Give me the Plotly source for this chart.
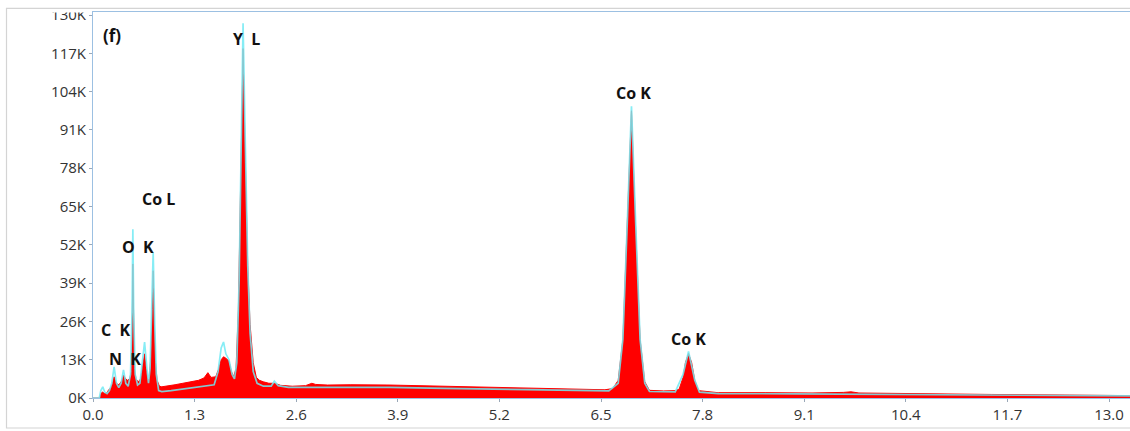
import plotly.graph_objects as go

# Measured EDS spectrum: energy (keV) and counts (thousands)
spec_energy = [
    0.00, 0.09, 0.10, 0.12, 0.15, 0.18, 0.20, 0.23, 0.25, 0.27, 0.29, 0.32,
    0.35, 0.37, 0.39, 0.41, 0.44, 0.47, 0.49, 0.50, 0.51, 0.52, 0.53, 0.55,
    0.58, 0.61, 0.63, 0.66, 0.68, 0.70, 0.72, 0.74, 0.76, 0.77, 0.78, 0.80,
    0.82, 0.85, 0.88, 0.95, 1.05, 1.15, 1.25, 1.35, 1.42, 1.47, 1.51, 1.57,
    1.61, 1.64, 1.67, 1.70, 1.74, 1.77, 1.80, 1.83, 1.86, 1.89, 1.92, 1.95,
    1.98, 2.01, 2.05, 2.09, 2.13, 2.18, 2.25, 2.32, 2.40, 2.55, 2.72, 2.80,
    2.85, 3.00, 3.30, 3.80, 4.40, 5.00, 5.60, 6.20, 6.55, 6.65, 6.72, 6.78,
    6.84, 6.89, 6.94, 7.00, 7.06, 7.12, 7.30, 7.45, 7.50, 7.55, 7.58, 7.62,
    7.66, 7.70, 7.75, 8.00, 8.60, 9.20, 9.60, 9.70, 9.80, 10.50, 11.50,
    12.50, 13.30,
]
spec_counts_k = [
    0.0, 0.0, 1.5, 2.0, 1.5, 1.8, 2.8, 3.5, 5.0, 7.2, 5.5, 4.4,
    5.0, 6.0, 7.8, 6.8, 6.0, 6.5, 9.0, 20.0, 45.5, 22.0, 10.0, 6.5,
    5.5, 6.5, 10.0, 15.0, 10.0, 6.0, 6.5, 14.0, 30.0, 43.2, 30.0, 12.0,
    6.0, 4.0, 3.8, 4.0, 4.5, 5.0, 5.5, 6.0, 6.8, 8.6, 7.0, 7.2,
    10.0, 13.0, 14.0, 13.5, 12.5, 9.0, 7.2, 10.0, 30.0, 80.0, 118.6, 80.0,
    45.0, 25.0, 12.0, 7.0, 6.0, 5.5, 5.0, 5.0, 4.3, 4.0, 4.2, 5.0,
    4.6, 4.4, 4.5, 4.4, 4.0, 3.6, 3.3, 3.0, 2.8, 3.2, 6.0, 20.0,
    60.0, 97.5, 60.0, 20.0, 5.5, 2.6, 2.4, 2.5, 3.0, 7.0, 12.0, 15.1,
    12.0, 6.0, 2.5, 1.8, 1.8, 1.7, 1.9, 2.1, 1.7, 1.4, 1.2,
    1.0, 0.8,
]

# Fitted spectrum overlay: energy (keV) and counts (thousands)
fit_energy = [
    0.00, 0.08, 0.10, 0.125, 0.15, 0.18, 0.21, 0.24, 0.27, 0.30, 0.33, 0.36,
    0.39, 0.42, 0.45, 0.48, 0.50, 0.51, 0.52, 0.54, 0.57, 0.60, 0.63, 0.66,
    0.69, 0.71, 0.73, 0.75, 0.77, 0.79, 0.81, 0.84, 0.88, 1.00, 1.20, 1.40,
    1.55, 1.60, 1.64, 1.67, 1.70, 1.74, 1.78, 1.81, 1.84, 1.87, 1.90, 1.92,
    1.95, 1.98, 2.01, 2.05, 2.10, 2.18, 2.28, 2.32, 2.37, 2.50, 3.00, 3.80,
    4.50, 5.20, 6.00, 6.60, 6.72, 6.78, 6.84, 6.89, 6.94, 7.00, 7.06, 7.12,
    7.45, 7.55, 7.62, 7.70, 7.76, 8.00, 9.00, 10.00, 11.00, 12.00, 13.30,
]
fit_counts_k = [
    0.0, 0.0, 2.5, 3.8, 2.0, 1.5, 2.5, 5.0, 10.6, 5.0, 3.5, 5.0,
    9.5, 5.0, 4.0, 8.0, 30.0, 57.3, 30.0, 8.0, 4.4, 5.0, 12.0, 19.0,
    10.0, 5.0, 10.0, 30.0, 49.4, 25.0, 8.0, 2.5, 2.2, 2.5, 3.2, 3.9,
    4.5, 9.0, 17.0, 19.0, 15.0, 13.0, 8.0, 6.5, 12.0, 40.0, 100.0, 127.2,
    85.0, 45.0, 22.0, 9.0, 5.0, 4.0, 4.0, 5.7, 4.2, 3.6, 3.6, 3.6,
    3.3, 3.0, 2.6, 2.4, 5.0, 20.0, 62.0, 99.0, 62.0, 20.0, 5.0, 2.2,
    2.1, 8.0, 15.8, 6.0, 2.0, 1.5, 1.4, 1.2, 1.0, 0.9, 0.7,
]

# Axis ticks
x_tick_vals = [0.0, 1.3, 2.6, 3.9, 5.2, 6.5, 7.8, 9.1, 10.4, 11.7, 13.0]
x_tick_text = ["0.0", "1.3", "2.6", "3.9", "5.2", "6.5", "7.8", "9.1",
               "10.4", "11.7", "13.0"]
y_tick_vals = [0, 13, 26, 39, 52, 65, 78, 91, 104, 117, 130]
y_tick_text = ["0K", "13K", "26K", "39K", "52K", "65K", "78K", "91K",
               "104K", "117K", "130K"]

# Peak labels: text, energy (keV), height (thousands), font size
peak_text = ["(f)", "Y\u00a0\u00a0L", "Co L", "O\u00a0\u00a0K", "C\u00a0\u00a0K",
             "N\u00a0\u00a0K", "Co K", "Co K"]
peak_x = [0.245, 1.96, 0.835, 0.575, 0.30, 0.415, 6.92, 7.62]
peak_y = [123.0, 122.0, 67.5, 51.3, 23.0, 13.3, 103.6, 20.0]
peak_size = [17, 16, 16, 16, 16, 16, 16, 16]

W, H = 1130, 431
L, R, T, B = 93, 0, 12, 33
plot_w = W - L - R
plot_h = H - T - B
px_per_kev = (1109 - 93) / 13.0
x_max = plot_w / px_per_kev
px_per_k = 38.3 / 13.0
y_max = plot_h / px_per_k


def paper_x(px):
    return (px - L) / plot_w


def paper_y(py):
    return (H - B - py) / plot_h


fig = go.Figure()

fig.add_trace(go.Scatter(
    x=spec_energy, y=spec_counts_k, mode="lines",
    line=dict(color="#ff0000", width=1),
    fill="tozeroy", fillcolor="#ff0000",
    hoverinfo="skip", showlegend=False,
))
fig.add_trace(go.Scatter(
    x=fit_energy, y=fit_counts_k, mode="lines",
    line=dict(color="#72eaf4", width=1.7),
    opacity=0.85, hoverinfo="skip", showlegend=False,
))

for t, xv, yv, fs in zip(peak_text, peak_x, peak_y, peak_size):
    fig.add_annotation(
        x=xv, y=yv, text=f"<b>{t}</b>", showarrow=False,
        font=dict(family="Open Sans", size=fs, color="#111111"),
        xanchor="center", yanchor="middle",
    )

# Mask above the plot top that trims the top tick label, then outer frame
fig.add_shape(type="rect", xref="paper", yref="paper",
              x0=paper_x(0), x1=paper_x(L - 1), y0=paper_y(12.5), y1=paper_y(0),
              fillcolor="white", line=dict(width=0), layer="above")
fig.add_shape(type="rect", xref="paper", yref="paper",
              x0=paper_x(6.5), x1=paper_x(W + 20), y0=paper_y(428), y1=paper_y(8.3),
              fillcolor="rgba(0,0,0,0)", line=dict(color="#d4d4d4", width=1.2),
              layer="above")

axis_blue = "#9cc0e2"
fig.update_xaxes(
    range=[0, x_max], tickvals=x_tick_vals, ticktext=x_tick_text,
    showgrid=False, zeroline=False, showline=True, linecolor=axis_blue,
    linewidth=1, mirror=True, ticks="outside", ticklen=3, tickcolor="#9aa8b8",
    tickfont=dict(family="Open Sans", size=15, color="#333333"),
)
fig.update_yaxes(
    range=[0, y_max], tickvals=y_tick_vals, ticktext=y_tick_text,
    showgrid=False, zeroline=False, showline=True, linecolor=axis_blue,
    linewidth=1, mirror=True, ticks="outside", ticklen=3, tickcolor="#9aa8b8",
    tickfont=dict(family="Open Sans", size=15, color="#333333"),
)

fig.update_layout(
    width=W, height=H,
    margin=dict(l=L, r=R, t=T, b=B, pad=0),
    paper_bgcolor="white", plot_bgcolor="white",
    showlegend=False, hovermode=False,
)

fig.write_html("out.html", config={"displayModeBar": False})
